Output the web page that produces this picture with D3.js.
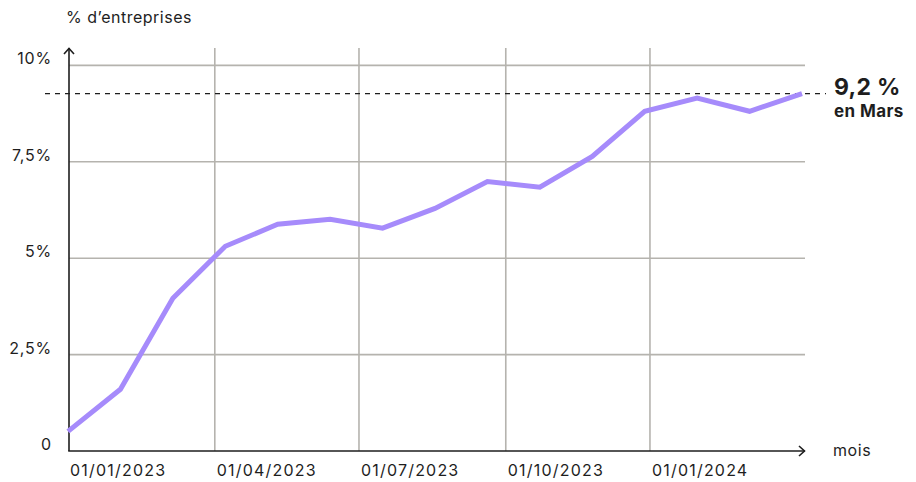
<!DOCTYPE html>
<html>
<head>
<meta charset="utf-8">
<script src="https://cdn.jsdelivr.net/npm/d3@7"></script>
<style>
  html, body { margin: 0; padding: 0; background: #fff; }
  svg { display: block; font-family: Inter, "Liberation Sans", sans-serif; }
</style>
</head>
<body>
<svg id="chart" width="916" height="482"></svg>
<script>
// ---- data ----
const months = ["2023-01","2023-02","2023-03","2023-04","2023-05","2023-06","2023-07","2023-08",
                "2023-09","2023-10","2023-11","2023-12","2024-01","2024-02","2024-03"];
const values = [0.51, 1.60, 3.96, 5.31, 5.88, 6.01, 5.78, 6.29, 6.99, 6.84, 7.64, 8.81, 9.15, 8.81, 9.27];
const yTicks = [0, 2.5, 5, 7.5, 10];
const yTickLabels = ["0", "2,5%", "5%", "7,5%", "10%"];
const xTickPositions = [0, 2.8, 5.55, 8.35, 11.1];   // position in month index units
const xTickLabels = ["01/01/2023", "01/04/2023", "01/07/2023", "01/10/2023", "01/01/2024"];
const yTitle = "% d\u2019entreprises";
const xTitle = "mois";
const lastLabel = "9,2 %";
const lastSub = "en Mars";

// ---- layout ----
const svg = d3.select("#chart");
const x0 = 69, x1 = 802, yBottom = 451, yTop10 = 65.4;
const x = d3.scaleLinear().domain([0, months.length - 1]).range([68, x1]);
const y = d3.scaleLinear().domain([0, 10]).range([yBottom, yTop10]);
const grid = "#b5b3ae", ink = "#1e1e1e", purple = "#a68bfb";

// horizontal grid
svg.append("g").selectAll("line").data(yTicks.filter(d => d > 0)).join("line")
  .attr("x1", x0).attr("x2", 805).attr("y1", d => y(d)).attr("y2", d => y(d))
  .attr("stroke", grid).attr("stroke-width", 1.6);
// vertical grid
svg.append("g").selectAll("line").data(xTickPositions.slice(1)).join("line")
  .attr("x1", d => x(d)).attr("x2", d => x(d)).attr("y1", 48).attr("y2", yBottom)
  .attr("stroke", grid).attr("stroke-width", 1.6);

// dashed reference line at last value
const lastVal = values[values.length - 1];
svg.append("line")
  .attr("x1", 45).attr("x2", 826).attr("y1", y(lastVal)).attr("y2", y(lastVal))
  .attr("stroke", ink).attr("stroke-width", 1.2).attr("stroke-dasharray", "5,5");

// axes
svg.append("line").attr("x1", x0).attr("x2", x0).attr("y1", 48).attr("y2", yBottom)
  .attr("stroke", ink).attr("stroke-width", 1.6);
svg.append("line").attr("x1", x0 - 0.8).attr("x2", 805).attr("y1", yBottom).attr("y2", yBottom)
  .attr("stroke", ink).attr("stroke-width", 1.6);
// arrows
svg.append("path").attr("d", `M${x0-5},54 L${x0},48.5 L${x0+5},54`)
  .attr("fill", "none").attr("stroke", ink).attr("stroke-width", 1.6);
svg.append("path").attr("d", `M799,${yBottom-5} L804.5,${yBottom} L799,${yBottom+5}`)
  .attr("fill", "none").attr("stroke", ink).attr("stroke-width", 1.6);

// line
const line = d3.line().x((d, i) => x(i)).y(d => y(d));
svg.append("path").datum(values)
  .attr("d", line).attr("fill", "none").attr("stroke", purple)
  .attr("stroke-width", 5).attr("stroke-linejoin", "miter").attr("stroke-linecap", "butt");

// y tick labels
svg.append("g").selectAll("text").data(yTicks).join("text")
  .attr("x", 52).attr("y", d => y(d) - 1).attr("text-anchor", "end")
  .attr("font-size", 16).attr("letter-spacing", 0.8).attr("fill", ink)
  .text((d, i) => yTickLabels[i]);

// x tick labels
svg.append("g").selectAll("text").data(xTickPositions).join("text")
  .attr("x", d => x(d) + 2).attr("y", 476).attr("text-anchor", "start")
  .attr("font-size", 16).attr("letter-spacing", 1.2).attr("fill", ink)
  .text((d, i) => xTickLabels[i]);

// titles
svg.append("text").attr("x", 66).attr("y", 23).attr("font-size", 16)
  .attr("letter-spacing", 0.5).attr("fill", ink).text(yTitle);
svg.append("text").attr("x", 833).attr("y", 456).attr("font-size", 16)
  .attr("letter-spacing", 0.6).attr("fill", ink).text(xTitle);

// end annotation
svg.append("text").attr("x", 834).attr("y", 95).attr("font-size", 23).attr("font-weight", 700)
  .attr("letter-spacing", 0.3).attr("fill", ink).text(lastLabel);
svg.append("text").attr("x", 834).attr("y", 117).attr("font-size", 17).attr("font-weight", 700)
  .attr("letter-spacing", 0.4).attr("fill", ink).text(lastSub);
</script>
</body>
</html>
